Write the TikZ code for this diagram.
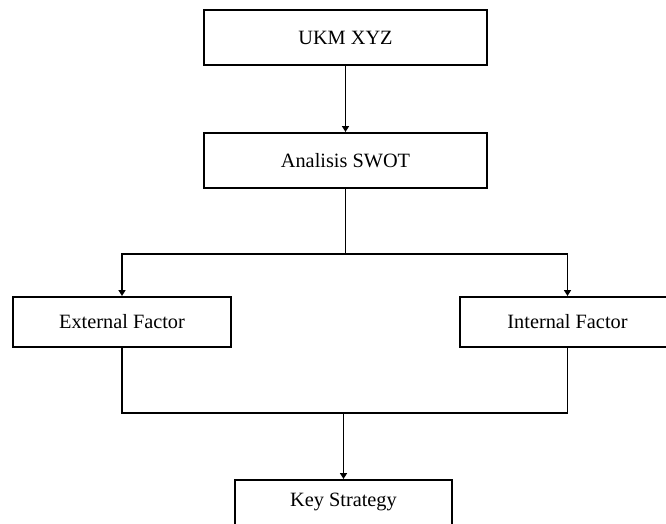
\documentclass[tikz,border=0pt]{standalone}
\usepackage{fontspec}
\setmainfont{Liberation Serif}
\usetikzlibrary{arrows.meta}
\begin{document}
\begin{tikzpicture}[x=1pt,y=-1pt,
  box/.style={draw, line width=2pt, rectangle, inner sep=0pt, align=center,
    font=\fontsize{20.3}{24}\selectfont},
  conn/.style={line width=1.9pt},
  arr/.style={conn, -{Triangle[length=6pt,width=7pt]}}]
\useasboundingbox (0,0) rectangle (666,523);
\node[box, minimum width=283pt, minimum height=55pt] (ukm) at (345.5,37.5) {UKM XYZ};
\node[box, minimum width=283pt, minimum height=55pt] (swot) at (345.5,160.5) {Analisis SWOT};
\node[box, minimum width=218pt, minimum height=50pt] (ext) at (122,322) {External Factor};
\node[box, minimum width=215pt, minimum height=50pt] (int) at (567.5,322) {Internal Factor};
\node[box, minimum width=217pt, minimum height=49pt, anchor=north] (key) at (343.5,479) {};
\node[font=\fontsize{20.3}{24}\selectfont] (keyt) at (343.5,502) {Key Strategy};
\coordinate (j1) at (345.5,254);
\coordinate (j2) at (343.5,413);
\draw[arr] (ukm.south) -- (swot.north);
\draw[conn] (swot.south) -- (j1);
\draw[arr] (j1) -| (ext.north);
\draw[arr] (j1) -| (int.north);
\draw[conn] (ext.south) |- (j2) -| (int.south);
\draw[arr] (j2) -- (key.north);
\end{tikzpicture}
\end{document}
